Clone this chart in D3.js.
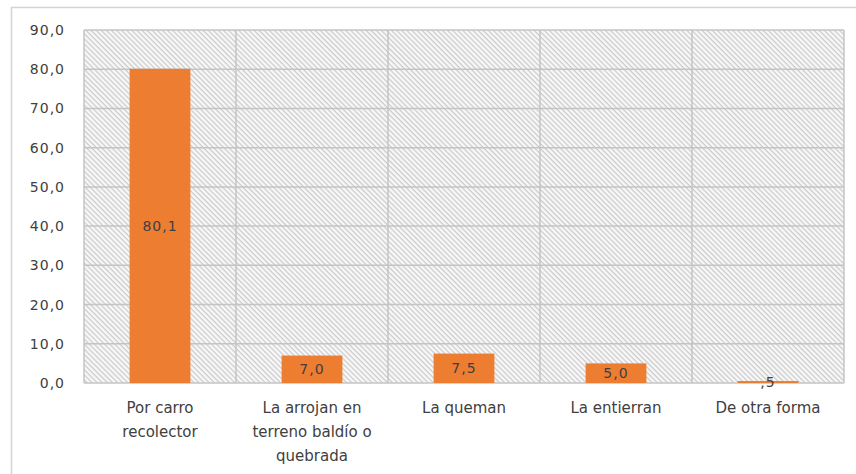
<!DOCTYPE html>
<html>
<head>
<meta charset="utf-8">
<script src="https://cdn.jsdelivr.net/npm/d3@7"></script>
<style>
  body { margin: 0; background: #fff; }
  svg { display: block; font-family: "DejaVu Sans", "Open Sans", sans-serif; }
</style>
</head>
<body>
<svg width="856" height="474"></svg>
<script>
// Data
const categories = ["Por carro recolector", "La arrojan en terreno baldío o quebrada", "La queman", "La entierran", "De otra forma"];
const categoryLines = [
    ["Por carro", "recolector"],
    ["La arrojan en", "terreno baldío o", "quebrada"],
    ["La queman"],
    ["La entierran"],
    ["De otra forma"]
];
const values = [80.1, 7.0, 7.5, 5.0, 0.5];
const valueLabels = ["80,1", "7,0", "7,5", "5,0", ",5"];
const yTicks = [0, 10, 20, 30, 40, 50, 60, 70, 80, 90];

const svg = d3.select("svg"),
    width = parseInt(svg.attr("width")),
    height = parseInt(svg.attr("height"));

const margin = { top: 30, right: 12, bottom: 91, left: 84 };
const plotW = width - margin.left - margin.right,
    plotH = height - margin.top - margin.bottom;

// Outer chart border (top and left visible)
svg.append("rect")
   .attr("x", 11.5).attr("y", 7.5)
   .attr("width", width).attr("height", height)
   .attr("fill", "none")
   .attr("stroke", "#d4d4d4")
   .attr("stroke-width", 1.5);

// Diagonal hatch for the plot area
const defs = svg.append("defs");
const pat = defs.append("pattern")
    .attr("id", "hatch")
    .attr("patternUnits", "userSpaceOnUse")
    .attr("width", 3.6).attr("height", 3.6)
    .attr("patternTransform", "rotate(-45)");
pat.append("rect").attr("width", 3.6).attr("height", 3.6).attr("fill", "#f9f9f9");
pat.append("line")
   .attr("x1", 1.2).attr("y1", 0).attr("x2", 1.2).attr("y2", 3.6)
   .attr("stroke", "#cbcbcb").attr("stroke-width", 1.3);

const g = svg.append("g").attr("transform", `translate(${margin.left},${margin.top})`);

const x = d3.scaleBand().domain(categories).range([0, plotW]).paddingInner(0).paddingOuter(0);
const y = d3.scaleLinear().domain([0, 90]).range([plotH, 0]);

g.append("rect")
 .attr("width", plotW).attr("height", plotH)
 .attr("fill", "url(#hatch)");

// Horizontal gridlines
g.append("g")
 .selectAll("line")
 .data(yTicks)
 .join("line")
 .attr("x1", 0).attr("x2", plotW)
 .attr("y1", d => y(d)).attr("y2", d => y(d))
 .attr("stroke", "#c4c4c4").attr("stroke-width", 1.5);

// Vertical gridlines at category boundaries
const bounds = categories.map(c => x(c)).concat([plotW]);
g.append("g")
 .selectAll("line")
 .data(bounds)
 .join("line")
 .attr("x1", d => d).attr("x2", d => d)
 .attr("y1", 0).attr("y2", plotH)
 .attr("stroke", "#c4c4c4").attr("stroke-width", 1.5);

// Y axis labels
const fmt = d3.formatLocale({ decimal: ",", thousands: ".", grouping: [3], currency: ["", ""] }).format(".1f");
const yAxis = d3.axisLeft(y).tickValues(yTicks).tickFormat(fmt).tickSize(0).tickPadding(19);
g.append("g")
 .call(yAxis)
 .call(a => a.select(".domain").remove())
 .selectAll("text")
 .attr("fill", "#404040")
 .style("font-size", "14px")
 .style("letter-spacing", "1px")
 .style("font-family", "\"DejaVu Sans\", sans-serif");

// Bars
const barW = x.bandwidth() * 0.4;
g.append("g")
 .selectAll("rect")
 .data(values)
 .join("rect")
 .attr("x", (d, i) => x(categories[i]) + (x.bandwidth() - barW) / 2)
 .attr("y", d => y(d))
 .attr("width", barW)
 .attr("height", d => y(0) - y(d))
 .attr("fill", "#ED7D31");

// Value labels centered in bars
g.append("g")
 .selectAll("text")
 .data(values)
 .join("text")
 .attr("x", (d, i) => x(categories[i]) + x.bandwidth() / 2)
 .attr("y", d => (y(d) + y(0)) / 2)
 .attr("dy", "0.35em")
 .attr("text-anchor", "middle")
 .attr("fill", "#404040")
 .style("font-size", "14px")
 .style("letter-spacing", "1px")
 .text((d, i) => valueLabels[i]);

// Category labels (multi-line)
const cat = g.append("g")
 .selectAll("text")
 .data(categoryLines)
 .join("text")
 .attr("text-anchor", "middle")
 .attr("fill", "#404040")
 .style("font-size", "15px")
 .attr("transform", (d, i) => `translate(${x(categories[i]) + x.bandwidth() / 2},${plotH + 30})`);
cat.selectAll("tspan")
   .data(d => d)
   .join("tspan")
   .attr("x", 0)
   .attr("y", (d, i) => i * 24)
   .text(d => d);
</script>
</body>
</html>
